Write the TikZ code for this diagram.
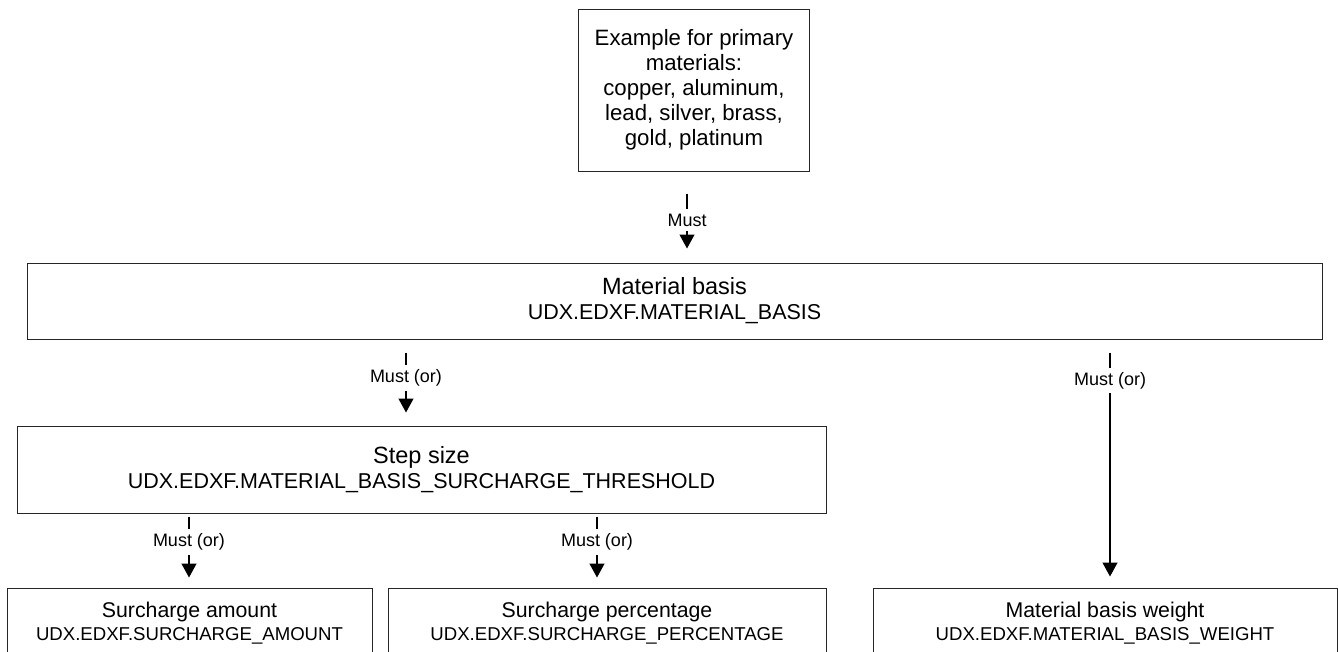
\documentclass[tikz,border=0pt]{standalone}
\usepackage{fontspec}
\setmainfont{Liberation Sans}
\usetikzlibrary{arrows.meta,
    positioning}

\newcommand\ttlfont{\fontsize{23.5}{25}\selectfont}
\newcommand\codefont{\fontsize{18.6}{22}\selectfont}

\begin{document}
\begin{tikzpicture}[x = 1pt, y = -1pt,
                  box/.style = {draw=black!85, line width=1pt, align=center,
                                inner sep=0pt, font=\fontsize{21.5}{25}\selectfont},
                  lowbox/.style = {box, minimum height=70pt,
                                   font=\fontsize{21.3}{23}\selectfont},
                  arr/.style = {-{Triangle[length=14pt, width=15pt]}, line width=1.3pt},
                  lbl/.style = {fill=white, inner sep=4.5pt,
                                font=\fontsize{18}{20}\selectfont}
                  ]
\useasboundingbox (0,0) rectangle (1338,651);
\node (ex) [box, minimum width=231pt, minimum height=162pt,
            font=\fontsize{22.2}{25}\selectfont] at (694,90)
    {Example for primary\\ materials:\\ copper, aluminum,\\ lead, silver, brass,\\ gold, platinum};
\node (mb) [box, minimum width=1295pt, minimum height=76pt] at (674.5,301)
    {{\ttlfont Material basis}\\ UDX.EDXF.MATERIAL\_BASIS};
\node (sz) [box, minimum width=809pt, minimum height=87pt] at (421.5,469.5)
    {{\ttlfont Step size}\\ UDX.EDXF.MATERIAL\_BASIS\_SURCHARGE\_THRESHOLD};
\node (amt) [lowbox, minimum width=365pt] at (189.5,623)
    {Surcharge amount\\ {\codefont UDX.EDXF.SURCHARGE\_AMOUNT}};
\node (pct) [lowbox, minimum width=438pt] at (607,623)
    {Surcharge percentage\\ {\codefont UDX.EDXF.SURCHARGE\_PERCENTAGE}};
\node (wt) [lowbox, minimum width=464pt] at (1105,623)
    {Material basis weight\\ {\codefont UDX.EDXF.MATERIAL\_BASIS\_WEIGHT}};
% connectors: source/target/x/label/pos/gap at start/gap at end
\foreach \s/\t/\x/\l/\p/\a/\b in {ex/mb/687/Must/0.533/22/14,
                                  mb/sz/406/Must (or)/0.448/13/13,
                                  mb/wt/1110/Must (or)/0.165/13/11,
                                  sz/amt/189/Must (or)/0.387/3/10,
                                  sz/pct/597/Must (or)/0.387/3/10}
  \draw[arr, shorten <=\a pt, shorten >=\b pt] (\s.south -| \x,0)
      -- node[lbl, pos=\p] {\l} (\t.north -| \x,0);
\end{tikzpicture}
\end{document}
